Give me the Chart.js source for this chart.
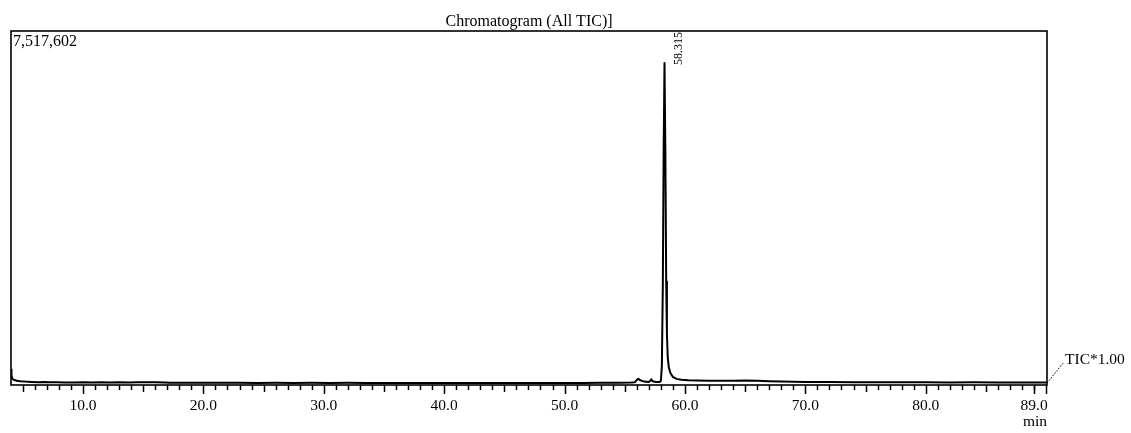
<!DOCTYPE html>
<html>
<head>
<meta charset="utf-8">
<script src="https://cdn.jsdelivr.net/npm/chart.js@4/dist/chart.umd.min.js"></script>
<style>
  html, body { margin: 0; padding: 0; background: #fff; }
  #wrap { width: 1131px; height: 433px; }
</style>
</head>
<body>
<div id="wrap"><canvas id="myChart" width="1131" height="433"></canvas></div>
<script>
// retention time (min) and TIC intensity
var rt = [4.02,4.06,4.12,4.25,4.5,4.8,5.2,5.7,6.3,6.8,7.2,7.8,8.5,9.3,10.0,10.8,11.5,12.3,13.0,13.8,
          14.6,15.3,16.0,16.8,17.2,18.0,19.0,20.0,21.5,23.0,24.5,26.0,27.5,29.0,30.5,32.0,33.5,35.0,36.5,38.0,
          39.5,41.0,42.5,44.0,45.5,47.0,48.5,50.0,51.5,53.0,54.5,55.5,55.85,56.0,56.12,56.3,56.6,57.0,57.12,57.2,
          57.3,57.6,57.9,58.0,58.08,58.16,58.23,58.3,58.37,58.44,58.5,58.57,58.66,58.8,59.0,59.3,59.7,60.3,61.0,62.0,
          63.0,64.0,65.0,66.0,67.0,68.0,69.0,70.0,72.0,74.0,76.0,78.0,80.0,82.0,84.0,86.0,88.0,90.07];
var tic = [330000,210000,140000,110000,92000,80000,72000,66000,60000,62000,56000,58000,55000,52000,56000,53000,57000,54000,58000,55000,
           59000,56000,58000,55000,48000,50000,47000,49000,46000,48000,45000,47000,45000,46000,44000,46000,44000,45000,43000,45000,
           43000,44000,42000,44000,42000,43000,45000,43000,45000,46000,48000,52000,60000,110000,130000,100000,72000,66000,90000,120000,
           80000,66000,64000,90000,400000,2100000,5000000,6840000,5000000,2200000,1100000,580000,370000,250000,170000,130000,112000,100000,96000,92000,
           88000,90000,95000,90000,82000,76000,70000,66000,62000,60000,58000,56000,57000,55000,56000,54000,55000,54000];

// axis labels and peak annotation
var xTickLabels = [10,20,30,40,50,60,70,80,89];
var peakTimes = [58.315];
var peakLabels = ["58.315"];
var maxIntensity = 7517602;

var serif = "'Liberation Serif', 'Times New Roman', serif";

// frame, minor ticks and the printed annotations
var printout = {
  id: 'printout',
  beforeDraw: function(chart) {
    var c = chart.ctx;
    c.save();
    c.fillStyle = '#fff';
    c.fillRect(0, 0, chart.width, chart.height);
    c.restore();
  },
  afterDraw: function(chart) {
    var c = chart.ctx, a = chart.chartArea, xs = chart.scales.x;
    c.save();
    c.strokeStyle = '#000';
    c.lineWidth = 1.6;
    c.strokeRect(a.left, a.top, a.right - a.left, a.bottom - a.top);

    // tick marks every minute, longer at 5 and 10
    c.lineWidth = 1.5;
    for (var t = 5; t <= 90; t++) {
      var px = Math.round(xs.getPixelForValue(t)) + 0.5;
      var len = (t % 10 === 0) ? 9 : (t % 5 === 0 ? 7 : 5);
      c.beginPath();
      c.moveTo(px, a.bottom);
      c.lineTo(px, a.bottom + len);
      c.stroke();
    }
    var p89 = Math.round(xs.getPixelForValue(89)) + 0.5;
    c.beginPath(); c.moveTo(p89, a.bottom); c.lineTo(p89, a.bottom + 9); c.stroke();

    c.fillStyle = '#000';
    c.font = '16px ' + serif;
    c.textAlign = 'left';
    c.textBaseline = 'top';
    c.fillText(maxIntensity.toLocaleString('en-US'), a.left + 2, a.top + 3);

    // peak label, rotated
    c.font = '12px ' + serif;
    for (var i = 0; i < peakTimes.length; i++) {
      var pp = xs.getPixelForValue(peakTimes[i]);
      c.save();
      c.translate(pp + 14, a.top + 1);
      c.rotate(-Math.PI / 2);
      c.textAlign = 'right';
      c.textBaseline = 'middle';
      c.fillText(peakLabels[i], 0, 0);
      c.restore();
    }

    // detector trace label with dotted leader
    c.setLineDash([1.5, 1.5]);
    c.lineWidth = 1;
    c.beginPath();
    c.moveTo(a.right, a.bottom - 2);
    c.lineTo(a.right + 17, a.bottom - 23);
    c.stroke();
    c.setLineDash([]);
    c.font = '15.5px ' + serif;
    c.textAlign = 'left';
    c.textBaseline = 'middle';
    c.fillText('TIC*1.00', a.right + 18, a.bottom - 25);
    c.restore();
  }
};

var ctx = document.getElementById("myChart");
var myChart = new Chart(ctx, {
  type: 'line',
  data: {
    datasets: [{
      data: rt.map(function(t, i) { return {x: t, y: tic[i]}; }),
      borderColor: '#000',
      borderWidth: 2,
      borderJoinStyle: 'round',
      pointRadius: 0,
      tension: 0,
      fill: false
    }]
  },
  plugins: [printout],
  options: {
    responsive: false,
    animation: false,
    events: [],
    layout: { padding: { top: 0, left: 11, right: 84, bottom: 0 } },
    plugins: {
      legend: { display: false },
      tooltip: { enabled: false },
      title: {
        display: true,
        text: 'Chromatogram (All TIC)]',
        color: '#000',
        font: { family: serif, size: 16, weight: 'normal', lineHeight: 1 },
        padding: { top: 14, bottom: 1 }
      }
    },
    scales: {
      x: {
        type: 'linear',
        min: 4.02,
        max: 90.07,
        grid: { display: false, drawTicks: false },
        border: { display: false },
        afterBuildTicks: function(scale) {
          scale.ticks = xTickLabels.map(function(v) { return {value: v}; });
        },
        afterFit: function(scale) { scale.height = 48; },
        ticks: {
          autoSkip: false,
          maxRotation: 0,
          padding: 12,
          color: '#000',
          font: { family: serif, size: 15.5 },
          callback: function(v) { return Number(v).toFixed(1); }
        },
        title: {
          display: true,
          text: 'min',
          align: 'end',
          color: '#000',
          font: { family: serif, size: 15.5 },
          padding: { top: 0, bottom: 2 }
        }
      },
      y: {
        display: false,
        min: 0,
        max: maxIntensity
      }
    }
  }
});
</script>
</body>
</html>
